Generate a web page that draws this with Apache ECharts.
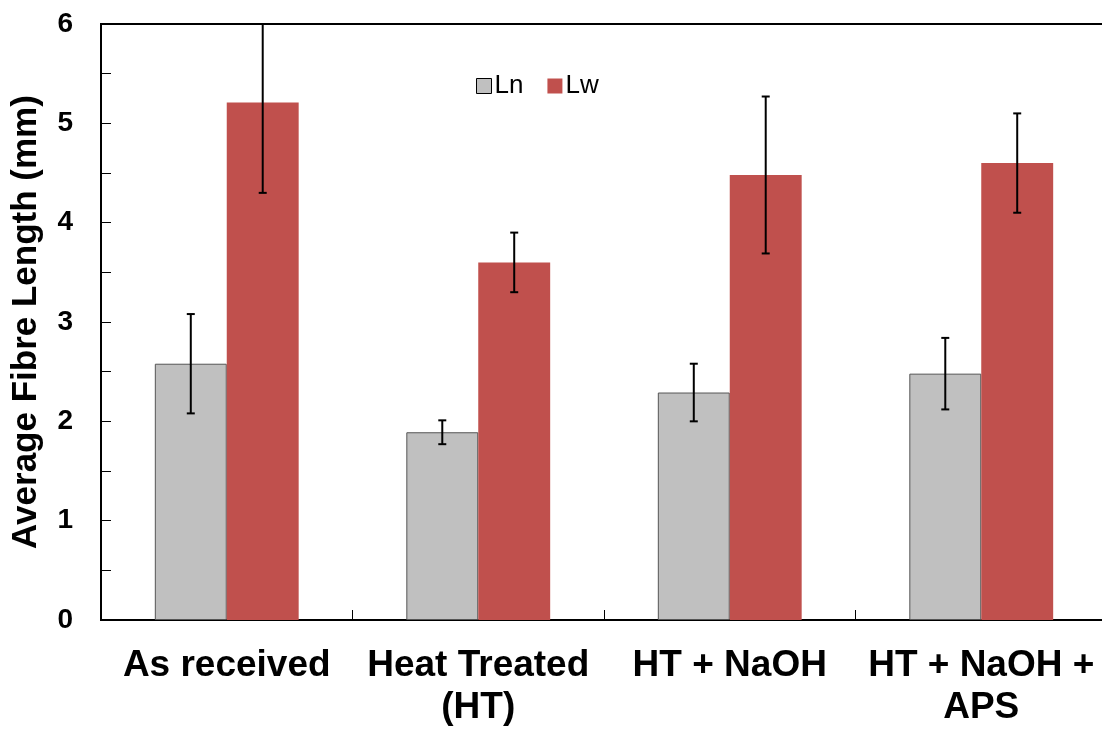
<!DOCTYPE html>
<html><head><meta charset="utf-8">
<script src="https://cdn.jsdelivr.net/npm/echarts@6/dist/echarts.min.js"></script>
<style>html,body{margin:0;padding:0;background:#fff}#c{width:1102px;height:729px}</style>
</head><body><div id="c"></div>
<script>
const categories = ['As received', 'Heat Treated\n(HT)', 'HT + NaOH', 'HT + NaOH +\nAPS'];
const lnValues = [2.58, 1.89, 2.29, 2.48];
const lnErrors = [0.50, 0.12, 0.29, 0.36];
const lwValues = [5.21, 3.60, 4.48, 4.60];
const lwErrors = [0.91, 0.30, 0.79, 0.50];
const yTickLabels = ['0', '1', '2', '3', '4', '5', '6'];

const BAR_FRAC = 0.286;
const font = 'Liberation Sans, Arial, sans-serif';

function errSeries(name, values, errors, offsetFrac) {
  return {
    type: 'custom',
    name: name + ' err',
    z: 5,
    clip: true,
    data: values.map((v, i) => [i, v - errors[i], v + errors[i]]),
    renderItem: function (params, api) {
      const i = api.value(0);
      const catW = api.size([1, 0])[0];
      const lo = api.coord([i, api.value(1)]);
      const hi = api.coord([i, api.value(2)]);
      const x = lo[0] + offsetFrac * catW;
      const cap = 4;
      const style = { stroke: '#000', lineWidth: 2 };
      return {
        type: 'group',
        children: [
          { type: 'line', shape: { x1: x, y1: lo[1], x2: x, y2: hi[1] }, style: style },
          { type: 'line', shape: { x1: x - cap, y1: lo[1], x2: x + cap, y2: lo[1] }, style: style },
          { type: 'line', shape: { x1: x - cap, y1: hi[1], x2: x + cap, y2: hi[1] }, style: style }
        ]
      };
    }
  };
}

const chart = echarts.init(document.getElementById('c'), null, { renderer: 'canvas' });
chart.setOption({
  animation: false,
  backgroundColor: '#fff',
  grid: {
    left: 101, width: 1006, top: 24, height: 596,
    show: true, borderColor: '#000', borderWidth: 2,
    containLabel: false, outerBoundsMode: 'none'
  },
  legend: {
    left: 471, top: 68,
    icon: 'rect',
    itemWidth: 15, itemHeight: 15, itemGap: 24,
    textStyle: { fontFamily: font, fontSize: 26, color: '#000', padding: [0, 0, 0, -2] },
    data: [
      { name: 'Ln', itemStyle: { color: '#C0C0C0', borderColor: '#000', borderWidth: 1 } },
      { name: 'Lw', itemStyle: { color: '#C0504D' } }
    ]
  },
  xAxis: {
    type: 'category',
    data: categories,
    axisLine: { lineStyle: { color: '#000', width: 2 } },
    axisTick: { show: true, inside: true, length: 10, lineStyle: { color: '#000', width: 1 } },
    axisLabel: { fontFamily: font, fontSize: 37, fontWeight: 'bold', color: '#000', margin: 25, lineHeight: 42, interval: 0 }
  },
  yAxis: {
    type: 'value',
    min: 0, max: 6, interval: 0.5,
    name: 'Average Fibre Length (mm)',
    nameLocation: 'middle',
    nameGap: 57,
    nameTextStyle: { fontFamily: font, fontSize: 35, fontWeight: 'bold', color: '#000' },
    axisLine: { show: true, lineStyle: { color: '#000', width: 2 } },
    axisTick: { show: true, inside: true, length: 10, lineStyle: { color: '#000', width: 1 } },
    splitLine: { show: false },
    axisLabel: {
      fontFamily: font, fontSize: 28, fontWeight: 'bold', color: '#000', margin: 28,
      formatter: function (v) { return Number.isInteger(v) ? yTickLabels[v] : ''; }
    }
  },
  series: [
    {
      name: 'Ln', type: 'bar', data: lnValues, barWidth: (BAR_FRAC * 100) + '%', barGap: '0%',
      itemStyle: { color: '#C0C0C0', borderColor: '#555', borderWidth: 1 }
    },
    {
      name: 'Lw', type: 'bar', data: lwValues, barWidth: (BAR_FRAC * 100) + '%', barGap: '0%',
      itemStyle: { color: '#C0504D' }
    },
    errSeries('Ln', lnValues, lnErrors, -BAR_FRAC / 2),
    errSeries('Lw', lwValues, lwErrors, BAR_FRAC / 2)
  ]
});
</script></body></html>
